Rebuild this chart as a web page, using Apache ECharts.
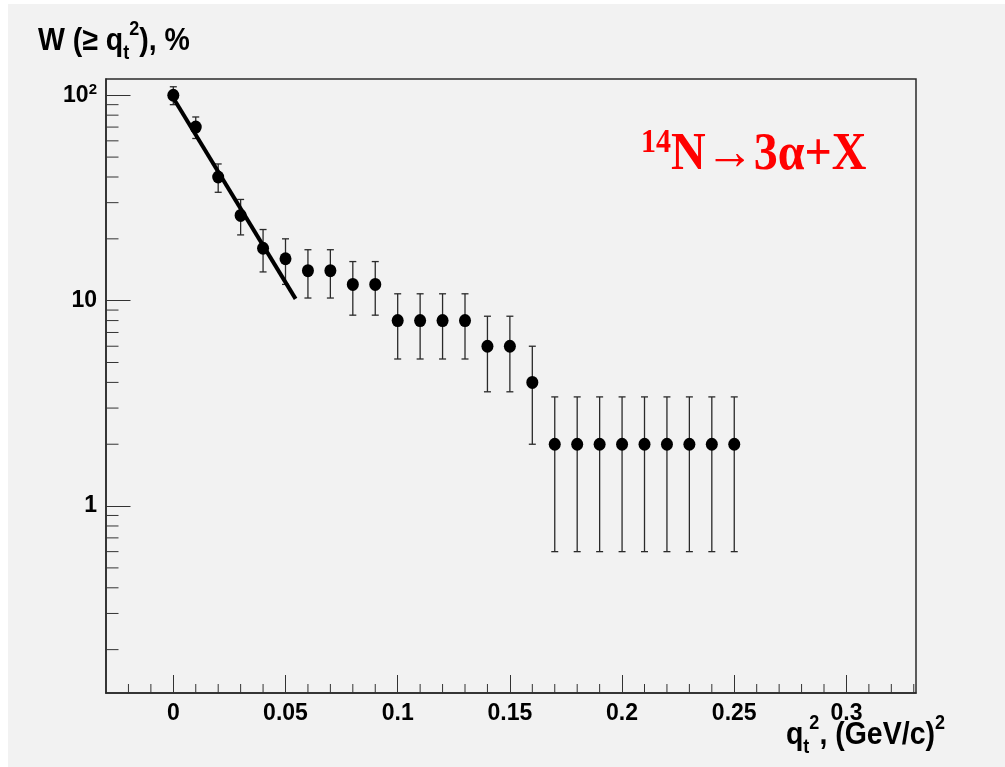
<!DOCTYPE html>
<html>
<head>
<meta charset="utf-8">
<script src="https://cdn.jsdelivr.net/npm/echarts@6/dist/echarts.min.js"></script>
<style>
html,body{margin:0;padding:0;background:#ffffff;}
#chart{width:1005px;height:767px;}
</style>
</head>
<body>
<div id="chart"></div>
<script>
// ---- data ----
const qt2 = [0, 0.01, 0.02, 0.03, 0.04, 0.05, 0.06, 0.07, 0.08, 0.09, 0.10, 0.11, 0.12,
             0.13, 0.14, 0.15, 0.16, 0.17, 0.18, 0.19, 0.20, 0.21, 0.22, 0.23, 0.24, 0.25];
const W = [100, 70, 40, 26, 18, 16, 14, 14, 12, 12, 8, 8, 8, 8, 6, 6, 4, 2, 2, 2, 2, 2, 2, 2, 2, 2];
const Werr = [10, 8.4, 6.3, 5.1, 4.2, 4, 3.7, 3.7, 3.5, 3.5, 2.8, 2.8, 2.8, 2.8, 2.4, 2.4, 2,
              1.4, 1.4, 1.4, 1.4, 1.4, 1.4, 1.4, 1.4, 1.4];
const fitQ = [0, 0.0545];
const fitW = [97, 10.2];
const xMin = -0.03, xMax = 0.331;
const yMin = 0.123, yMax = 120;
const xMinorTicks = [-0.02, -0.01, 0.01, 0.02, 0.03, 0.04, 0.06, 0.07, 0.08, 0.09,
                     0.11, 0.12, 0.13, 0.14, 0.16, 0.17, 0.18, 0.19, 0.21, 0.22, 0.23, 0.24,
                     0.26, 0.27, 0.28, 0.29, 0.31, 0.32, 0.33];
const yMinorTicks = [0.2, 0.3, 0.4, 0.5, 0.6, 0.7, 0.8, 0.9,
                     2, 3, 4, 5, 6, 7, 8, 9,
                     20, 30, 40, 50, 60, 70, 80, 90];
const yTitle = 'W (≥ q';
const xTitle = ', (GeV/c)';
const reaction = 'N→3α+X';

const FONT = '"Liberation Sans", Arial, Helvetica, sans-serif';
const SERIF = '"Liberation Serif", "Times New Roman", serif';
const TICK = '#333333';

const chart = echarts.init(document.getElementById('chart'), null, {renderer: 'canvas'});

const pts = qt2.map((q, i) => [q, W[i]]);
const errData = qt2.map((q, i) => [q, W[i] - Werr[i], W[i] + Werr[i]]);
const fitData = fitQ.map((q, i) => [q, fitW[i]]);

const titleRich = {
  m: {fontFamily: FONT, fontWeight: 'bold', fontSize: 28.5, fill: '#000', lineHeight: 40},
  sub: {fontFamily: FONT, fontWeight: 'bold', fontSize: 18, fill: '#000', verticalAlign: 'bottom', lineHeight: 40},
  sup: {fontFamily: FONT, fontWeight: 'bold', fontSize: 18, fill: '#000', verticalAlign: 'top', lineHeight: 40}
};

const option = {
  animation: false,
  backgroundColor: '#ffffff',
  grid: {
    left: 106, right: 89, top: 79, bottom: 74,
    show: true, borderColor: '#2a2a2a', borderWidth: 1.5,
    backgroundColor: 'transparent',
    outerBoundsMode: 'none', containLabel: false
  },
  xAxis: {
    type: 'value', min: xMin, max: xMax, splitNumber: 7,
    splitLine: {show: false},
    axisLine: {show: true, onZero: false, lineStyle: {color: '#2a2a2a', width: 1.5}},
    axisTick: {show: true, inside: true, length: 18, lineStyle: {color: TICK, width: 1}},
    axisLabel: {
      margin: 9, color: '#000', fontFamily: FONT, fontWeight: 'bold', fontSize: 23,
      showMinLabel: false, showMaxLabel: false,
      formatter: function (v) {
        const k = Math.round(v / 0.05);
        if (Math.abs(v - k * 0.05) > 1e-6) return '';
        return String(parseFloat((k * 0.05).toFixed(2)));
      }
    }
  },
  yAxis: {
    type: 'log', logBase: 10, min: yMin, max: yMax,
    splitLine: {show: false},
    axisLine: {show: true, onZero: false, lineStyle: {color: '#2a2a2a', width: 1.5}},
    axisTick: {show: true, inside: true, length: 24.5, lineStyle: {color: TICK, width: 1}},
    axisLabel: {
      margin: 9, color: '#000', fontFamily: FONT, fontWeight: 'bold', fontSize: 23,
      showMinLabel: false, showMaxLabel: false,
      formatter: function (v) {
        const l = Math.log10(v);
        const r = Math.round(l);
        if (Math.abs(l - r) > 1e-6) return '';
        if (r === 2) return '{n|10}{s|2}';
        return String(Math.round(v));
      },
      rich: {
        n: {fontFamily: FONT, fontWeight: 'bold', fontSize: 23, color: '#000'},
        s: {fontFamily: FONT, fontWeight: 'bold', fontSize: 15, color: '#000', verticalAlign: 'top', padding: [0, 0, 10, 0]}
      }
    }
  },
  graphic: [
    {type: 'rect', left: 8, top: 4, z: -100, silent: true,
     shape: {width: 997, height: 763}, style: {fill: '#f2f2f2'}},
    {type: 'text', left: 38, top: 19, z: 10, scaleY: 1.12,
     style: {
       text: '{m|' + yTitle + '}{sub|t}{sup|2}{m|), %}',
       rich: titleRich
     }},
    {type: 'text', right: 60, top: 713, z: 10, scaleY: 1.12,
     style: {
       text: '{m|q}{sub|t}{sup|2}{m|' + xTitle + '}{sup|2}',
       rich: titleRich
     }},
    {type: 'text', left: 641, top: 127, z: 10, scaleY: 1.1,
     style: {
       text: '{s|14}{m|' + reaction + '}',
       rich: {
         m: {fontFamily: SERIF, fontWeight: 'bold', fontSize: 48, fill: '#ff0000', lineHeight: 52},
         s: {fontFamily: SERIF, fontWeight: 'bold', fontSize: 30, fill: '#ff0000', verticalAlign: 'top', lineHeight: 52}
       }
     }}
  ],
  series: [
    {
      type: 'custom', name: 'xminor', silent: true,
      data: xMinorTicks.map(v => [v, 1]),
      renderItem: function (params, api) {
        const p = api.coord([api.value(0), 1]);
        const cs = params.coordSys;
        const yb = cs.y + cs.height;
        return {type: 'line', shape: {x1: p[0], y1: yb, x2: p[0], y2: yb - 9},
                style: {stroke: TICK, lineWidth: 1}};
      }
    },
    {
      type: 'custom', name: 'yminor', silent: true,
      data: yMinorTicks.map(v => [0, v]),
      renderItem: function (params, api) {
        const p = api.coord([0, api.value(1)]);
        const cs = params.coordSys;
        return {type: 'line', shape: {x1: cs.x, y1: p[1], x2: cs.x + 12.5, y2: p[1]},
                style: {stroke: TICK, lineWidth: 1}};
      }
    },
    {
      type: 'custom', name: 'errors', silent: true, z: 3,
      data: errData,
      renderItem: function (params, api) {
        const lo = api.coord([api.value(0), api.value(1)]);
        const hi = api.coord([api.value(0), api.value(2)]);
        const hw = 3.5;
        const st = {stroke: '#2a2a2a', lineWidth: 1.3};
        return {type: 'group', children: [
          {type: 'line', shape: {x1: lo[0], y1: lo[1], x2: hi[0], y2: hi[1]}, style: st},
          {type: 'line', shape: {x1: lo[0] - hw, y1: lo[1], x2: lo[0] + hw, y2: lo[1]}, style: st},
          {type: 'line', shape: {x1: hi[0] - hw, y1: hi[1], x2: hi[0] + hw, y2: hi[1]}, style: st}
        ]};
      }
    },
    {
      type: 'line', name: 'fit', data: fitData, showSymbol: false, z: 4,
      lineStyle: {color: '#000', width: 4}
    },
    {
      type: 'scatter', name: 'W', data: pts, z: 5,
      symbol: 'circle', symbolSize: [12, 13],
      itemStyle: {color: '#000', opacity: 1}
    }
  ]
};
chart.setOption(option);
</script>
</body>
</html>
